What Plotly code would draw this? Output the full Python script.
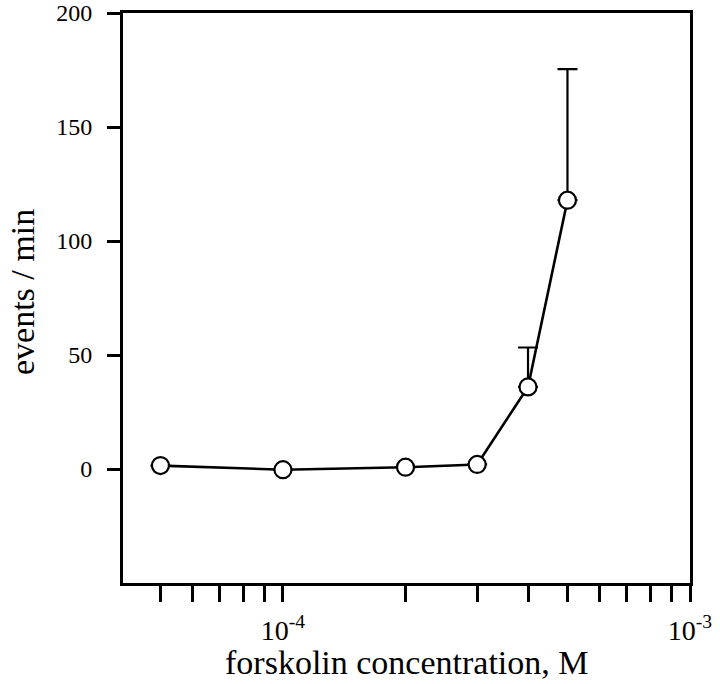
import plotly.graph_objects as go

# data
concentration = [5e-5, 1e-4, 2e-4, 3e-4, 4e-4, 5e-4]
events_per_min = [1.5, -0.3, 0.8, 2.0, 36.0, 117.9]
error_upper = [None, None, None, None, 17.3, 57.5]
x_major_vals = [1e-4, 1e-3]
x_major_text = ["10<sup>-4</sup>", "10<sup>-3</sup>"]
x_minor_vals = [5e-5, 6e-5, 7e-5, 8e-5, 9e-5, 2e-4, 3e-4, 4e-4, 5e-4, 6e-4, 7e-4, 8e-4, 9e-4]
y_tick_vals = [0, 50, 100, 150, 200]

font_family = "Liberation Serif"

fig = go.Figure()
fig.add_trace(go.Scatter(
    x=concentration,
    y=events_per_min,
    mode="lines+markers",
    line=dict(color="black", width=2.6),
    marker=dict(symbol="circle", size=17, color="white", line=dict(color="black", width=2.2)),
    error_y=dict(type="data", symmetric=False, array=error_upper,
                 arrayminus=[0] * len(concentration), color="black",
                 thickness=2.2, width=10),
    showlegend=False,
))

fig.update_layout(
    width=720, height=684,
    margin=dict(l=123, r=30, t=13, b=101, autoexpand=False),
    paper_bgcolor="white", plot_bgcolor="white",
    font=dict(family=font_family, color="black", size=24),
    xaxis=dict(
        type="log", range=[-4.393, -3],
        tickmode="array", tickvals=x_major_vals, ticktext=x_major_text,
        ticks="outside", ticklen=16, tickwidth=2.6, tickcolor="black",
        minor=dict(tickmode="array", tickvals=x_minor_vals, ticks="outside",
                   ticklen=16, tickwidth=2.6, tickcolor="black", showgrid=False),
        showline=True, linecolor="black", linewidth=3, mirror=True,
        showgrid=False, zeroline=False, automargin=False,
        tickfont=dict(family=font_family, size=28),
        ticklabelstandoff=4, ticklabeloverflow="allow",
    ),
    yaxis=dict(
        range=[-50, 200],
        tickmode="array", tickvals=y_tick_vals,
        ticks="outside", ticklen=13, tickwidth=2.6, tickcolor="black",
        showline=True, linecolor="black", linewidth=3, mirror=True,
        showgrid=False, zeroline=False, automargin=False,
        tickfont=dict(family=font_family, size=24),
        ticklabelstandoff=10, ticklabeloverflow="allow",
    ),
    annotations=[
        dict(text="forskolin concentration, M", xref="paper", yref="paper",
             x=0.5, y=0, yshift=-79, xanchor="center", yanchor="middle",
             showarrow=False, font=dict(family=font_family, size=34)),
        dict(text="events / min", xref="paper", yref="paper",
             x=0, y=0.5105, xshift=-101, xanchor="center", yanchor="middle",
             textangle=-90, showarrow=False, font=dict(family=font_family, size=34)),
    ],
)

# remove the default 8px page margin so the figure sits at the window's corner
fig.write_html("out.html", config={"displayModeBar": False},
               post_script="document.body.style.margin='0';")
